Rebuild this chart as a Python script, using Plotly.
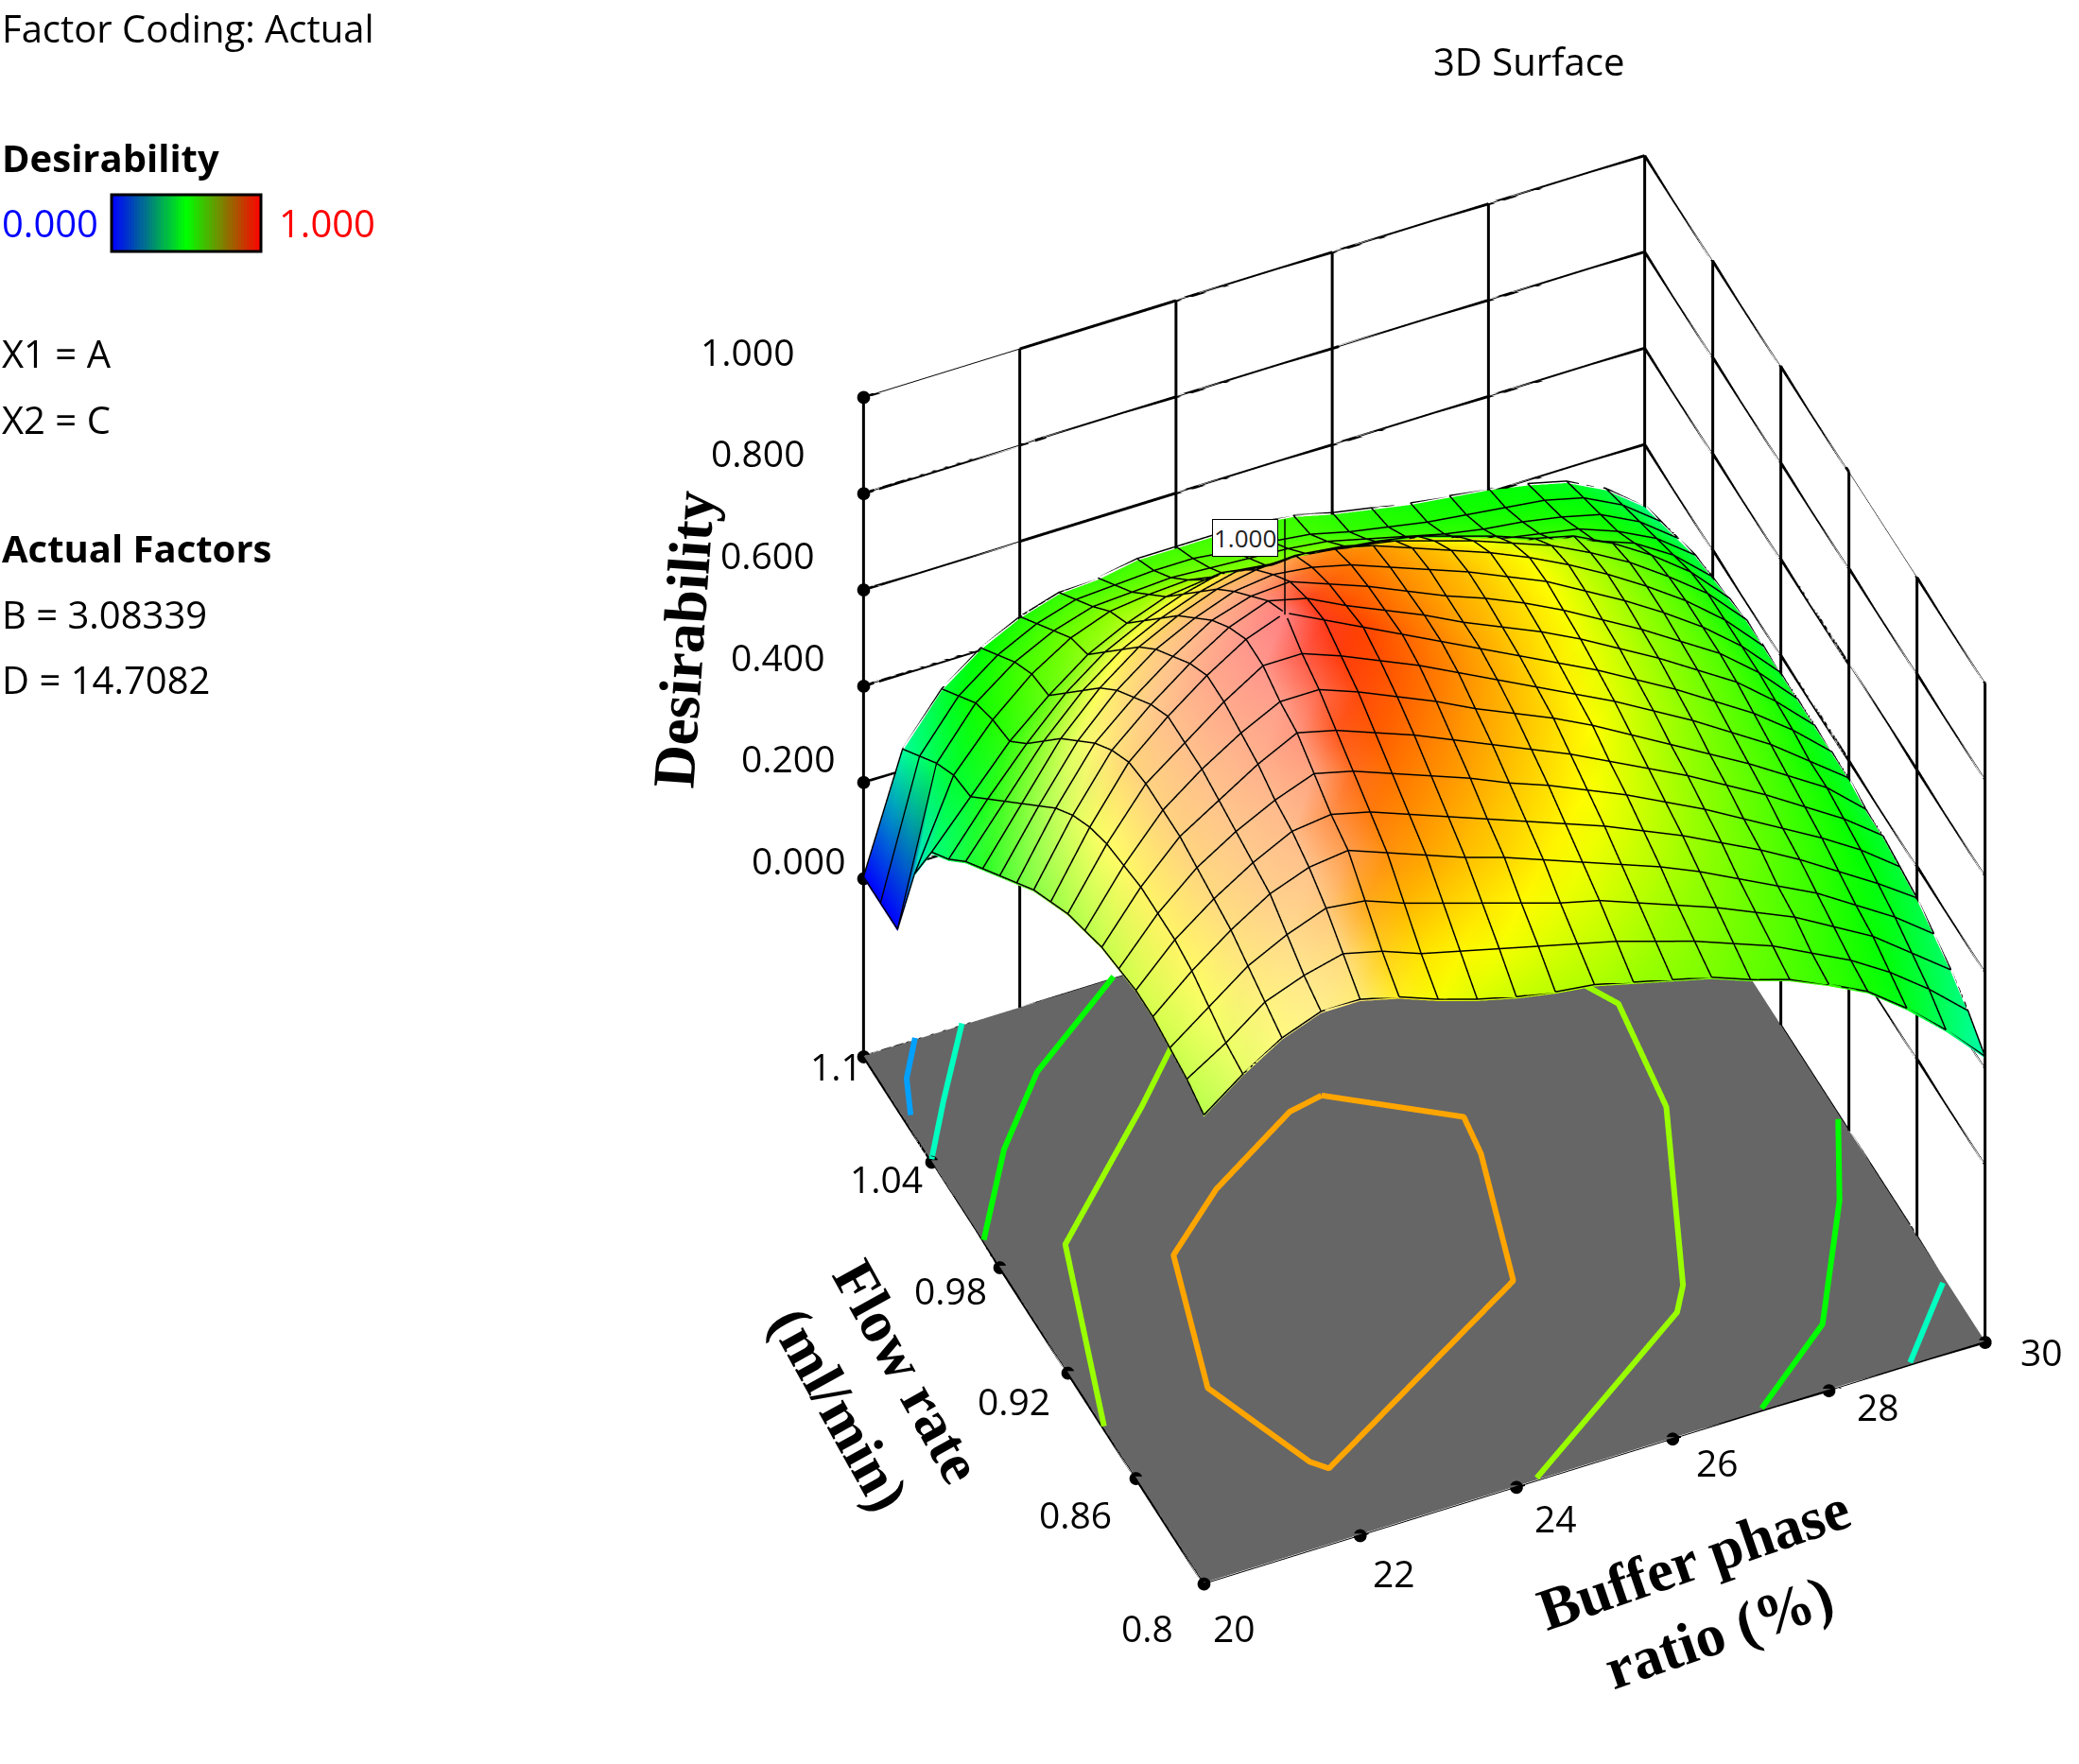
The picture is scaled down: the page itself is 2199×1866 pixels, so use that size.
import plotly.graph_objects as go

x_vals = [20+0.5*i for i in range(21)]
y_vals = [round(0.8+0.015*i,3) for i in range(21)]
z_rows = [
[.60,.66,.71,.74,.74,.72,.69,.665,.645,.63,.62,.60,.58,.56,.53,.505,.47,.43,.37,.30,.22],
[.62,.67,.73,.76,.78,.76,.73,.71,.69,.67,.65,.63,.605,.58,.55,.52,.48,.44,.39,.33,.26],
[.63,.69,.75,.79,.82,.81,.78,.755,.73,.705,.68,.66,.63,.60,.57,.535,.50,.455,.41,.35,.29],
[.64,.71,.77,.82,.85,.86,.83,.80,.77,.745,.715,.685,.655,.625,.59,.55,.51,.47,.42,.37,.31],
[.64,.72,.78,.83,.87,.88,.86,.83,.80,.77,.74,.71,.68,.645,.61,.57,.53,.485,.435,.385,.33],
[.63,.72,.79,.84,.88,.91,.89,.86,.83,.80,.765,.735,.70,.665,.625,.585,.54,.495,.45,.40,.34],
[.62,.72,.80,.85,.90,.94,.92,.89,.86,.825,.79,.755,.72,.68,.64,.60,.555,.51,.46,.41,.35],
[.60,.71,.80,.86,.91,.95,.95,.92,.885,.85,.81,.775,.74,.70,.655,.61,.565,.52,.47,.42,.35],
[.58,.70,.80,.86,.92,.97,.97,.94,.905,.87,.83,.79,.75,.71,.67,.625,.58,.53,.48,.42,.36],
[.55,.68,.79,.86,.92,.97,1.0,.96,.92,.88,.84,.80,.76,.72,.68,.635,.59,.54,.49,.43,.36],
[.52,.65,.76,.83,.89,.94,.97,.95,.91,.875,.84,.80,.765,.73,.69,.645,.60,.55,.50,.435,.36],
[.48,.61,.72,.79,.85,.90,.925,.93,.90,.87,.835,.80,.77,.735,.695,.65,.605,.555,.505,.44,.36],
[.44,.56,.67,.75,.81,.85,.88,.89,.88,.86,.83,.80,.77,.735,.70,.655,.61,.56,.505,.44,.36],
[.40,.51,.62,.70,.76,.80,.83,.845,.85,.84,.82,.79,.76,.73,.695,.655,.61,.56,.505,.44,.36],
[.36,.46,.56,.64,.70,.74,.77,.79,.78,.775,.765,.75,.725,.70,.67,.64,.60,.555,.50,.44,.36],
[.31,.41,.50,.58,.64,.68,.71,.73,.715,.71,.705,.695,.68,.655,.63,.60,.58,.54,.49,.43,.35],
[.27,.36,.45,.52,.58,.62,.65,.66,.65,.64,.64,.63,.61,.585,.565,.535,.515,.49,.46,.41,.34],
[.17,.35,.44,.51,.56,.59,.60,.605,.59,.585,.585,.575,.555,.535,.515,.49,.475,.46,.43,.39,.33],
[0,.32,.42,.48,.52,.545,.55,.555,.55,.545,.54,.53,.51,.49,.47,.455,.445,.43,.41,.37,.31],
[0,.28,.38,.44,.48,.505,.51,.515,.515,.505,.50,.49,.47,.455,.44,.43,.42,.41,.39,.35,.29],
[0,.24,.34,.40,.44,.465,.47,.485,.485,.485,.485,.475,.455,.44,.425,.415,.405,.39,.37,.33,.27],
]
Z0=[0]*21
sheen_rows = [
[.30,.40,.50,.55,.45,.12,0,0,0,0,0,0,0,0,0,0,0,0,0,0,0],
[.30,.40,.50,.55,.50,.12,0,0,0,0,0,0,0,0,0,0,0,0,0,0,0],
[.30,.40,.50,.55,.50,.12,0,0,0,0,0,0,0,0,0,0,0,0,0,0,0],
[.30,.40,.50,.55,.55,.30,.05,0,0,0,0,0,0,0,0,0,0,0,0,0,0],
[.30,.40,.50,.55,.55,.30,.05,0,0,0,0,0,0,0,0,0,0,0,0,0,0],
[.30,.40,.50,.55,.55,.50,.12,0,0,0,0,0,0,0,0,0,0,0,0,0,0],
[.30,.40,.50,.55,.55,.50,.12,0,0,0,0,0,0,0,0,0,0,0,0,0,0],
[.30,.40,.50,.55,.55,.55,.30,.05,0,0,0,0,0,0,0,0,0,0,0,0,0],
[.30,.40,.50,.55,.55,.55,.30,.05,0,0,0,0,0,0,0,0,0,0,0,0,0],
[.28,.38,.48,.55,.55,.55,.50,.12,0,0,0,0,0,0,0,0,0,0,0,0,0],
[.28,.38,.48,.55,.55,.55,.50,.12,0,0,0,0,0,0,0,0,0,0,0,0,0],
[.25,.35,.45,.50,.55,.55,.50,.28,.05,0,0,0,0,0,0,0,0,0,0,0,0],
[.20,.30,.40,.45,.50,.50,.50,.40,.10,0,0,0,0,0,0,0,0,0,0,0,0],
[.15,.22,.30,.35,.40,.42,.42,.38,.25,.05,0,0,0,0,0,0,0,0,0,0,0],
[.10,.15,.20,.25,.30,.32,.32,.30,.25,.10,0,0,0,0,0,0,0,0,0,0,0],
[.05,.10,.12,.15,.20,.22,.22,.20,.18,.10,0,0,0,0,0,0,0,0,0,0,0],
[0,.05,.06,.08,.10,.12,.12,.10,.10,.05,0,0,0,0,0,0,0,0,0,0,0],
Z0,Z0,Z0,Z0,
]
x_ticks = [20,22,24,26,28,30]
y_ticks = [0.8,0.86,0.92,0.98,1.04,1.1]
z_ticks = [0,0.2,0.4,0.6,0.8,1.0]
x_labels = ['20','22','24','26','28','30']
y_labels = ['0.8','0.86','0.92','0.98','1.04','1.1']
z_labels = ['0.000','0.200','0.400','0.600','0.800','1.000']
z_floor = -0.37
x_shift = [(32,-46),(36,-39),(42,-32),(48,-25),(52,-17),(60,-10)]
y_shift = [(-60,-46),(-64,-38),(-57,-29),(-52,-24),(-48,-17),(-29,-10)]
z_shift = [(-69,20),(-80,26),(-91,31),(-102,37),(-112,43),(-123,49)]

c08_x=[24.6,25.97,25.9,25.37,22.11,21.95,21.37,21.92,22.83,24.15,24.6]
c08_y=[1.013,.982,.962,.897,.835,.841,.891,.959,.984,1.01,1.013]
c06_x=[20,20.84,22.6,24,26,27.6,28.4,28.2,27.15,26.9,24.26]
c06_y=[.888,.98,1.034,1.08,1.09,1.06,1.013,.957,.87,.858,.8]
c04a_x=[20,20.84,21.73,22.77,23.2]
c04a_y=[.994,1.034,1.066,1.09,1.1]
c04b_x=[29.95,29.4,28.37,27.14]
c04b_y=[.926,.887,.831,.8]
c02a_x=[20,20.53,21.26]
c02a_y=[1.04,1.066,1.1]
c02b_x=[29.94,29.04]
c02b_y=[.833,.8]
c01_x=[20.08,20.29,20.66]
c01_y=[1.064,1.082,1.1]

stops=[(0,(0,0,255)),(.1,(0,160,255)),(.2,(0,255,192)),(.4,(0,255,0)),(.6,(153,255,0)),(.7,(255,255,0)),(.8,(255,165,0)),(1,(255,0,0))]
def shade(v,w):
    for (a,ca),(b,cb) in zip(stops,stops[1:]):
        if v<=b:
            t=(v-a)/(b-a)
            c=[ca[n]+(cb[n]-ca[n])*t for n in range(3)]
            break
    c=[q+(255-q)*w for q in c]
    return 'rgb(%d,%d,%d)'%tuple(round(q) for q in c)

n=len(x_vals)
vx=[];vy=[];vz=[];vc=[];ti=[];tj=[];tk=[]
for r,yy in enumerate(y_vals):
    for c,xx in enumerate(x_vals):
        vx.append(xx);vy.append(yy);vz.append(z_rows[r][c]);vc.append(shade(z_rows[r][c],sheen_rows[r][c]))
for r in range(len(y_vals)-1):
    for c in range(n-1):
        a=r*n+c
        ti+=[a,a];tj+=[a+1,a+n+1];tk+=[a+n+1,a+n]

fig=go.Figure()
fig.add_trace(go.Surface(x=[20,30],y=[0.8,1.1],z=[[z_floor+.002]*2]*2,colorscale=[[0,'#666666'],[1,'#666666']],showscale=False,
    lighting=dict(ambient=1,diffuse=0,specular=0,fresnel=0),hoverinfo='skip'))
fig.add_trace(go.Mesh3d(x=vx,y=vy,z=vz,i=ti,j=tj,k=tk,vertexcolor=vc,flatshading=False,
    lighting=dict(ambient=1,diffuse=0,specular=0,fresnel=0),hoverinfo='skip'))
mx,my,mz=[],[],[]
for j,yy in enumerate(y_vals):
    for i,xx in enumerate(x_vals):
        mx.append(xx);my.append(yy);mz.append(z_rows[j][i]+.004)
    mx.append(None);my.append(None);mz.append(None)
for i,xx in enumerate(x_vals):
    for j,yy in enumerate(y_vals):
        mx.append(xx);my.append(yy);mz.append(z_rows[j][i]+.004)
    mx.append(None);my.append(None);mz.append(None)
fig.add_trace(go.Scatter3d(x=mx,y=my,z=mz,mode='lines',line=dict(color='black',width=3),showlegend=False,hoverinfo='skip'))
for cx,cy,col in [(c08_x,c08_y,'#FFA500'),(c06_x,c06_y,'#99FF00'),(c04a_x,c04a_y,'#00FF00'),(c04b_x,c04b_y,'#00FF00'),
                  (c02a_x,c02a_y,'#00FFC0'),(c02b_x,c02b_y,'#00FFC0'),(c01_x,c01_y,'#00A0FF')]:
    fig.add_trace(go.Scatter3d(x=cx,y=cy,z=[z_floor+.006]*len(cx),mode='lines',line=dict(color=col,width=12),showlegend=False,hoverinfo='skip'))
def poly(xs,ys,zs):
    fig.add_trace(go.Scatter3d(x=xs,y=ys,z=zs,mode='lines',line=dict(color='black',width=6),showlegend=False,hoverinfo='skip'))
zv=[z_floor]+z_ticks
for t in x_ticks: poly([t]*7,[1.1]*7,zv)
for t in y_ticks: poly([30]*7,[t]*7,zv)
for t in z_ticks:
    poly(x_ticks,[1.1]*6,[t]*6); poly([30]*6,y_ticks,[t]*6)
poly(x_ticks,[.8]*6,[z_floor]*6);poly([20]*6,y_ticks,[z_floor]*6);poly(x_ticks,[1.1]*6,[z_floor]*6);poly([30]*6,y_ticks,[z_floor]*6)
fig.add_trace(go.Scatter3d(x=x_ticks,y=[.8]*6,z=[z_floor]*6,mode='markers',marker=dict(color='black',size=8),showlegend=False))
fig.add_trace(go.Scatter3d(x=[20]*6,y=y_ticks,z=[z_floor]*6,mode='markers',marker=dict(color='black',size=8),showlegend=False))
fig.add_trace(go.Scatter3d(x=[20]*6,y=[1.1]*6,z=z_ticks,mode='markers',marker=dict(color='black',size=8),showlegend=False))
fig.add_trace(go.Heatmap(z=[[i/50 for i in range(51)]],colorscale=[[0,'#0000FF'],[.5,'#00FF00'],[1,'#FF0000']],showscale=False,xaxis='x',yaxis='y',hoverinfo='skip'))

def px(x): return x/2199
def py(y): return 1-y/1866
F='Open Sans'; FS=40
left=[("Factor Coding: Actual",29),("<b>Desirability</b>",166),("X1 = A",374),("X2 = C",443),
      ("<b>Actual Factors</b>",580),("B = 3.08339",649),("D = 14.7082",718)]
ann=[dict(x=0,y=py(yy),xref='paper',yref='paper',text=t,showarrow=False,xanchor='left',yanchor='middle',font=dict(family=F,size=FS,color='black')) for t,yy in left]
ann+=[dict(x=0,y=py(235),xref='paper',yref='paper',text='0.000',showarrow=False,xanchor='left',yanchor='middle',font=dict(family=F,size=FS,color='#0000FF')),
      dict(x=px(293),y=py(235),xref='paper',yref='paper',text='1.000',showarrow=False,xanchor='left',yanchor='middle',font=dict(family=F,size=FS,color='#FF0000')),
      dict(x=px(1617),y=py(64),xref='paper',yref='paper',text='3D Surface',showarrow=False,xanchor='center',yanchor='middle',font=dict(family=F,size=FS,color='black'))]

sa=[]
TF=dict(family=F,size=39,color='black')
for t,l,s in zip(x_ticks,x_labels,x_shift):
    sa.append(dict(x=t,y=.8,z=z_floor,text=l,showarrow=False,xshift=s[0],yshift=s[1],font=TF))
for t,l,s in zip(y_ticks,y_labels,y_shift):
    sa.append(dict(x=20,y=t,z=z_floor,text=l,showarrow=False,xshift=s[0],yshift=s[1],font=TF))
for t,l,s in zip(z_ticks,z_labels,z_shift):
    sa.append(dict(x=20,y=1.1,z=t,text=l,showarrow=False,xshift=s[0],yshift=s[1],font=TF))
TT=dict(family='Liberation Serif',size=63,color='black')
sa.append(dict(x=20,y=1.1,z=.5,text='<b>Desirability</b>',showarrow=False,xshift=-190,yshift=-2,textangle=-86,font=TT))
sa.append(dict(x=20,y=.95,z=z_floor,text='<b>Flow rate<br>(ml/min)</b>',showarrow=False,xshift=-170,yshift=-74,textangle=61,font=TT))
sa.append(dict(x=25,y=.8,z=z_floor,text='<b>Buffer phase<br>ratio (%)</b>',showarrow=False,xshift=119,yshift=-140,textangle=-19,font=TT))
sa.append(dict(x=23,y=.935,z=1.0,text=' ',showarrow=True,ax=0,ay=-105,arrowhead=0,arrowcolor='black',arrowwidth=1.5,font=dict(family=F,size=4)))
sa.append(dict(x=23,y=.935,z=1.0,text='1.000',showarrow=False,xshift=-42,yshift=81,bgcolor='white',bordercolor='black',borderwidth=1,font=dict(family=F,size=26,color='#222')))

axis=dict(showbackground=False,showgrid=True,gridcolor='black',gridwidth=2,showline=False,
          zeroline=False,showspikes=False,title='',showticklabels=False,ticks='')
fig.update_layout(width=2199,height=1866,margin=dict(l=0,r=0,t=0,b=0),paper_bgcolor='white',showlegend=False,annotations=ann,
  xaxis=dict(domain=[px(117),px(277)],visible=False,range=[-.5,50.5]),
  yaxis=dict(domain=[py(266),py(206)],visible=False),
  shapes=[dict(type='rect',xref='paper',yref='paper',x0=px(118),x1=px(276),y0=py(266),y1=py(206),line=dict(color='black',width=3))],
  scene=dict(domain=dict(x=[.37,1],y=[.022,.992]),
    aspectmode='manual',aspectratio=dict(x=1,y=.975,z=1.068),
    camera=dict(eye=dict(x=-.706,y=-1.58,z=1.66),up=dict(x=0,y=0,z=1),center=dict(x=0,y=0,z=0),projection=dict(type='orthographic')),
    xaxis=dict(axis,range=[20,30],tickvals=x_ticks),
    yaxis=dict(axis,range=[.8,1.1],tickvals=y_ticks),
    zaxis=dict(axis,range=[z_floor,1],tickvals=z_ticks),
    annotations=sa))
fig.write_html("out.html",post_script="document.body.style.margin='0';",config=dict(displayModeBar=False))
